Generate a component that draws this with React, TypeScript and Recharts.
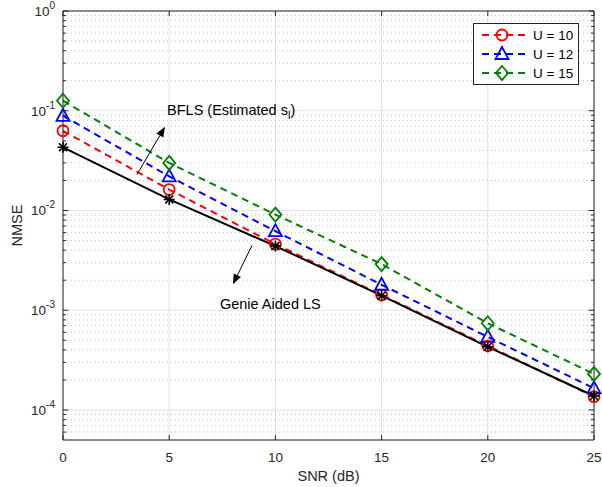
import { LineChart, Line, XAxis, YAxis, CartesianGrid, ReferenceLine, ReferenceDot } from 'recharts'

const FONT = '"Liberation Sans", Arial, Helvetica, sans-serif'
const AXIS_COLOR = '#262626'
const MAJOR_GRID = '#e2e2e2'
const MINOR_GRID = '#c4c4c4'

// SNR (dB) on the x axis
const SNR_DB = [0, 5, 10, 15, 20, 25]
// NMSE readings per curve
const NMSE_U10 = [0.063, 0.0162, 0.0046, 0.00142, 0.00044, 0.000136]
const NMSE_U12 = [0.089, 0.022, 0.0062, 0.0018, 0.00054, 0.000165]
const NMSE_U15 = [0.126, 0.03, 0.0091, 0.0029, 0.00074, 0.00023]
const NMSE_GENIE = [0.043, 0.0129, 0.0044, 0.0014, 0.00043, 0.000138]

const Y_TICKS = [1e-4, 1e-3, 1e-2, 1e-1, 1]
const Y_DOMAIN: [number, number] = [5e-5, 1]
const DECADES = [1e-5, 1e-4, 1e-3, 1e-2, 1e-1]
const MINOR_MULTS = [2, 3, 4, 5, 6, 7, 8, 9]

const data = SNR_DB.map((snr, i) => ({
  snr,
  u10: NMSE_U10[i],
  u12: NMSE_U12[i],
  u15: NMSE_U15[i],
  genie: NMSE_GENIE[i],
}))

const minorValues = DECADES.flatMap((d) => MINOR_MULTS.map((m) => d * m)).filter(
  (v) => v > Y_DOMAIN[0] * 1.0001 && v < Y_DOMAIN[1],
)

type MarkerKind = 'circle' | 'triangle' | 'diamond' | 'star'

function Marker({ cx, cy, kind, color }: { cx: number; cy: number; kind: MarkerKind; color: string }) {
  if (cx == null || cy == null) return null
  const sw = 1.8
  if (kind === 'circle') return <circle cx={cx} cy={cy} r={5.5} fill="none" stroke={color} strokeWidth={sw} />
  if (kind === 'triangle')
    return (
      <polygon
        points={`${cx},${cy - 7} ${cx - 6.5},${cy + 5} ${cx + 6.5},${cy + 5}`}
        fill="none"
        stroke={color}
        strokeWidth={sw}
      />
    )
  if (kind === 'diamond')
    return (
      <polygon
        points={`${cx},${cy - 7} ${cx + 6},${cy} ${cx},${cy + 7} ${cx - 6},${cy}`}
        fill="none"
        stroke={color}
        strokeWidth={sw}
      />
    )
  const r = 5.5
  const d = r * 0.72
  return (
    <g stroke={color} strokeWidth={1.6}>
      <line x1={cx - r} y1={cy} x2={cx + r} y2={cy} />
      <line x1={cx} y1={cy - r} x2={cx} y2={cy + r} />
      <line x1={cx - d} y1={cy - d} x2={cx + d} y2={cy + d} />
      <line x1={cx - d} y1={cy + d} x2={cx + d} y2={cy - d} />
    </g>
  )
}

const SERIES = [
  { key: 'u10', name: 'U = 10', color: '#ff0000', marker: 'circle' as MarkerKind, dash: '7 5' },
  { key: 'u12', name: 'U = 12', color: '#0000ff', marker: 'triangle' as MarkerKind, dash: '7 5' },
  { key: 'u15', name: 'U = 15', color: '#008000', marker: 'diamond' as MarkerKind, dash: '7 5' },
]

function Arrow(props: any) {
  const { x1, y1, x2, y2 } = props
  const ang = Math.atan2(y2 - y1, x2 - x1)
  const L = 10
  const W = 4
  const bx = x2 - L * Math.cos(ang)
  const by = y2 - L * Math.sin(ang)
  const px = -Math.sin(ang) * W
  const py = Math.cos(ang) * W
  return (
    <g>
      <line x1={x1} y1={y1} x2={bx} y2={by} stroke="#000" strokeWidth={1} />
      <polygon points={`${x2},${y2} ${bx + px},${by + py} ${bx - px},${by - py}`} fill="#000" />
    </g>
  )
}

function YTick(props: any) {
  const { x, y, payload } = props
  const exp = Math.round(Math.log10(payload.value))
  return (
    <text x={x} y={y} dy={5} textAnchor="end" fontFamily={FONT} fontSize={13.5} fill={AXIS_COLOR}>
      <tspan>10</tspan>
      <tspan dy={-7} fontSize={10}>
        {exp}
      </tspan>
    </text>
  )
}

function XTick(props: any) {
  const { x, y, payload } = props
  return (
    <text x={x} y={y} dy={14} textAnchor="middle" fontFamily={FONT} fontSize={13.5} fill={AXIS_COLOR}>
      {payload.value}
    </text>
  )
}

function NmseLabel(props: any) {
  const { viewBox } = props
  const x = 17
  const y = viewBox.y + viewBox.height / 2
  return (
    <text
      x={x}
      y={y}
      transform={`rotate(-90, ${x}, ${y})`}
      textAnchor="middle"
      dominantBaseline="central"
      fontFamily={FONT}
      fontSize={14.5}
      fill={AXIS_COLOR}
    >
      NMSE
    </text>
  )
}

function LegendBox() {
  return (
    <svg width={106} height={62} style={{ position: 'absolute', left: 473, top: 23 }}>
      <rect x={0.5} y={0.5} width={105} height={61} fill="#fff" stroke={AXIS_COLOR} strokeWidth={1} />
      {SERIES.map((s, i) => {
        const y = 12 + i * 19
        return (
          <g key={s.key}>
            <line x1={9} y1={y} x2={54} y2={y} stroke={s.color} strokeWidth={2} strokeDasharray={s.dash} />
            <Marker cx={29} cy={y} kind={s.marker} color={s.color} />
            <text x={60} y={y + 5} fontFamily={FONT} fontSize={13.5} fill="#000">
              {s.name}
            </text>
          </g>
        )
      })}
    </svg>
  )
}

export default function App() {
  const xTickLen = 0.05 // decades
  return (
    <div style={{ position: 'absolute', left: 0, top: 0, width: 602, height: 487, background: '#fff' }}>
      <LineChart width={602} height={487} data={data} margin={{ top: 11, right: 8, bottom: 0, left: 0 }}>
        <CartesianGrid stroke={MAJOR_GRID} strokeWidth={1} />
        {minorValues.map((v) => (
          <ReferenceLine key={`mg-${v}`} y={v} stroke={MINOR_GRID} strokeDasharray="1 3" strokeWidth={1} />
        ))}
        <XAxis
          dataKey="snr"
          type="number"
          domain={[0, 25]}
          ticks={SNR_DB}
          height={47}
          tick={<XTick />}
          tickLine={false}
          axisLine={{ stroke: AXIS_COLOR }}
          label={{ value: 'SNR (dB)', position: 'insideBottom', offset: 6, fontFamily: FONT, fontSize: 14.5, fill: AXIS_COLOR }}
        />
        <YAxis
          scale="log"
          domain={Y_DOMAIN}
          ticks={Y_TICKS}
          width={63}
          allowDataOverflow
          tick={<YTick />}
          tickLine={false}
          axisLine={{ stroke: AXIS_COLOR }}
          label={(p: any) => <NmseLabel {...p} />}
        />
        {/* box */}
        <ReferenceLine y={1} stroke={AXIS_COLOR} />
        <ReferenceLine x={25} stroke={AXIS_COLOR} />
        {/* inward ticks */}
        {SNR_DB.map((v) => (
          <ReferenceLine
            key={`xb-${v}`}
            segment={[{ x: v, y: Y_DOMAIN[0] }, { x: v, y: Y_DOMAIN[0] * Math.pow(10, xTickLen) }]}
            stroke={AXIS_COLOR}
          />
        ))}
        {SNR_DB.map((v) => (
          <ReferenceLine
            key={`xt-${v}`}
            segment={[{ x: v, y: 1 }, { x: v, y: Math.pow(10, -xTickLen) }]}
            stroke={AXIS_COLOR}
          />
        ))}
        {Y_TICKS.map((v) => (
          <ReferenceLine key={`yl-${v}`} segment={[{ x: 0, y: v }, { x: 0.25, y: v }]} stroke={AXIS_COLOR} />
        ))}
        {Y_TICKS.map((v) => (
          <ReferenceLine key={`yr-${v}`} segment={[{ x: 24.75, y: v }, { x: 25, y: v }]} stroke={AXIS_COLOR} />
        ))}
        {minorValues.map((v) => (
          <ReferenceLine key={`ml-${v}`} segment={[{ x: 0, y: v }, { x: 0.14, y: v }]} stroke={AXIS_COLOR} />
        ))}
        {minorValues.map((v) => (
          <ReferenceLine key={`mr-${v}`} segment={[{ x: 24.86, y: v }, { x: 25, y: v }]} stroke={AXIS_COLOR} />
        ))}
        {SERIES.map((s) => (
          <Line
            key={s.key}
            dataKey={s.key}
            stroke={s.color}
            strokeWidth={2}
            strokeDasharray={s.dash}
            isAnimationActive={false}
            dot={(p: any) => <Marker key={`${s.key}-${p.index}`} cx={p.cx} cy={p.cy} kind={s.marker} color={s.color} />}
            activeDot={false}
          />
        ))}
        <Line
          dataKey="genie"
          stroke="#000"
          strokeWidth={2}
          isAnimationActive={false}
          dot={(p: any) => <Marker key={`g-${p.index}`} cx={p.cx} cy={p.cy} kind="star" color="#000" />}
          activeDot={false}
        />
        {/* annotations */}
        <ReferenceLine segment={[{ x: 3.48, y: 0.0229 }, { x: 4.8, y: 0.069 }]} shape={<Arrow />} />
        <ReferenceLine segment={[{ x: 8.9, y: 0.00447 }, { x: 8.0, y: 0.00182 }]} shape={<Arrow />} />
        <ReferenceDot
          x={4.9}
          y={0.102}
          shape={(p: any) => (
            <text x={p.cx} y={p.cy + 5} fontFamily={FONT} fontSize={14.5} fill="#000">
              BFLS (Estimated s
              <tspan dy={4} fontSize={11}>
                l
              </tspan>
              <tspan dy={-4}>)</tspan>
            </text>
          )}
        />
        <ReferenceDot
          x={7.39}
          y={0.00115}
          shape={(p: any) => (
            <text x={p.cx} y={p.cy + 5} fontFamily={FONT} fontSize={14.5} fill="#000">
              Genie Aided LS
            </text>
          )}
        />
      </LineChart>
      <LegendBox />
    </div>
  )
}
